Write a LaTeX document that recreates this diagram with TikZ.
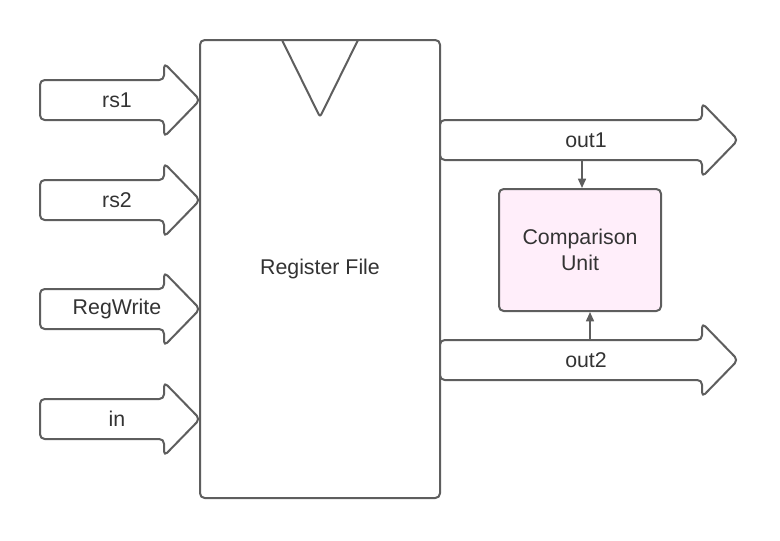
\documentclass[tikz,border=0pt]{standalone}
\usepackage{fontspec}
\setmainfont{Liberation Sans}
\usetikzlibrary{arrows.meta}
\definecolor{edge}{HTML}{5E5E5E}
\definecolor{ink}{HTML}{333333}
\definecolor{unitpink}{HTML}{FFEEFA}
\tikzset{
  wire/.style={draw=edge, line width=1.5pt, rounded corners=3.5pt, line join=round},
  lbl/.style={text=ink, font=\fontsize{16}{19.5}\selectfont, inner sep=0pt},
  regbox/.style={wire, fill=white, lbl, minimum width=180pt, minimum height=343.5pt},
  unitbox/.style={wire, fill=unitpink, lbl, align=center, minimum width=121.5pt, minimum height=91.5pt},
  sig/.style={draw=edge, line width=1.2pt, -{Triangle[length=7pt,width=6pt]}}
}
% name, tail x, centre y, body length, text
\newcommand\busarrow[5]{%
  \draw[wire, fill=white] (#2,#3-20) -- (#2+#4,#3-20) -- (#2+#4,#3-37) -- (#2+#4+36,#3)
    -- (#2+#4,#3+37) -- (#2+#4,#3+20) -- (#2,#3+20) -- cycle;
  \node[lbl] (#1) at (#2+#4/2+15,#3) {#5};
}

\begin{document}
\begin{tikzpicture}[x=0.75pt, y=-0.75pt]
    \useasboundingbox (0,0) rectangle (780,540);
    \node[regbox] (rf) at (320,269) {Register File};
    \draw[wire, rounded corners=2pt] (282,40) -- (320,117) -- (358,40);
    \busarrow{rs1}{40}{100}{124}{rs1}
    \busarrow{rs2}{40}{200}{124}{rs2}
    \busarrow{regwrite}{40}{309}{124}{RegWrite}
    \busarrow{in}{40}{419}{124}{in}
    \busarrow{out1}{440}{140}{262}{out1}
    \busarrow{out2}{440}{360}{262}{out2}
    \node[unitbox] (cmp) at (580,250) {Comparison\\Unit};
    \coordinate (t1) at (582,160);
    \coordinate (t2) at (590,340);
    \draw[sig] (t1) -- (t1 |- cmp.north);
    \draw[sig] (t2) -- (t2 |- cmp.south);
\end{tikzpicture}
\end{document}
